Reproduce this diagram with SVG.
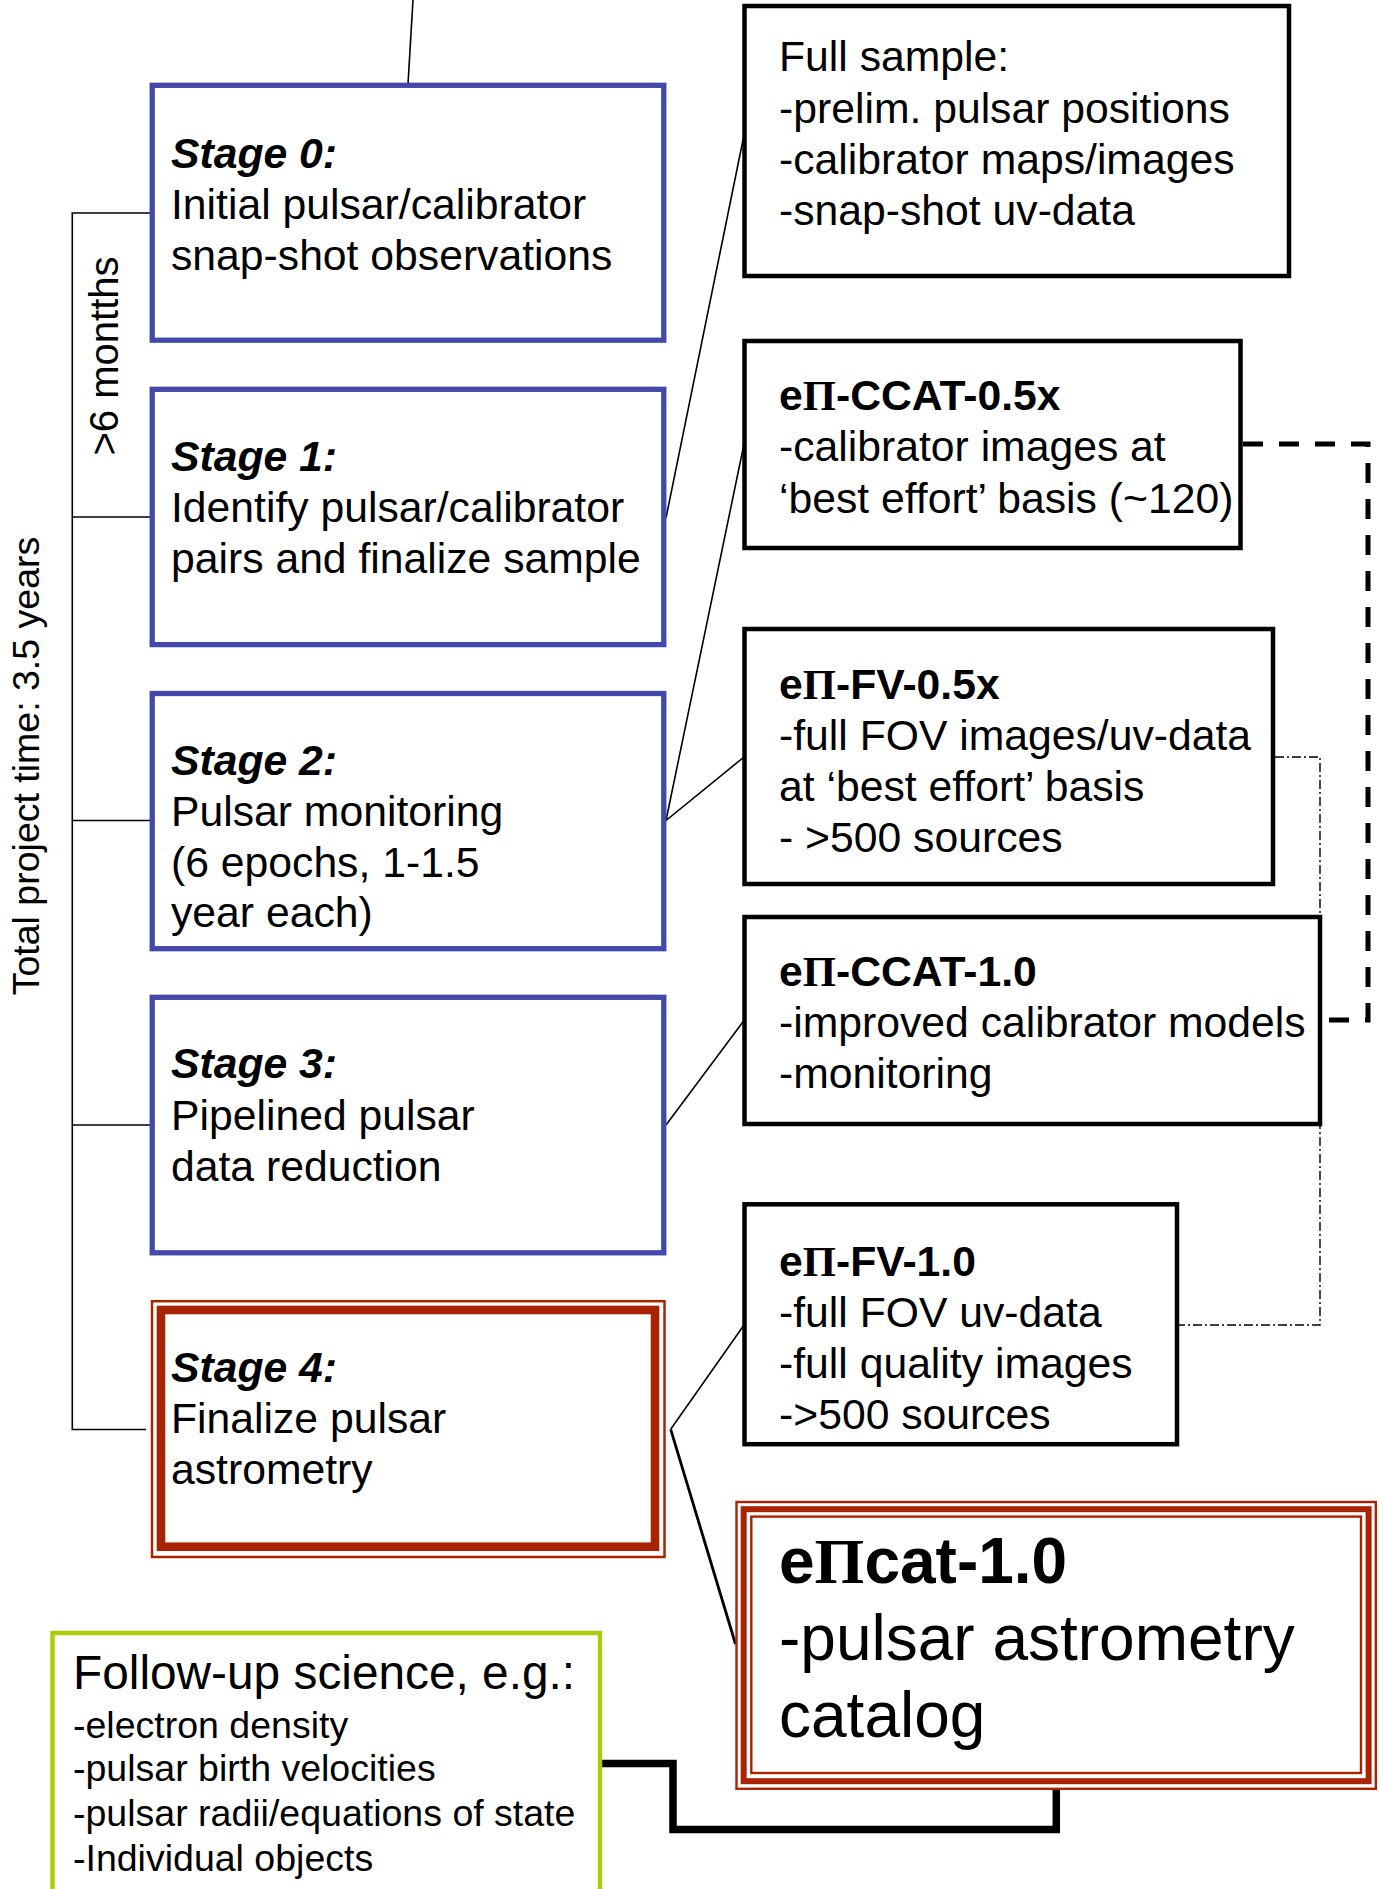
<svg xmlns="http://www.w3.org/2000/svg" width="1379" height="1889" viewBox="0 0 1379 1889">
<style>
text{font-family:"Liberation Sans",Arial,Helvetica,sans-serif;fill:#000}
.t{font-size:42.7px}
.s{font-size:37.5px}
.big{font-size:64px}
.b{font-weight:bold}
.bi{font-weight:bold;font-style:italic}
.pi{font-family:"Liberation Serif","Times New Roman",serif}
.st{fill:#fff;stroke:#4349a8;stroke-width:5.3}
.bx{fill:#fff;stroke:#000;stroke-width:4.5}
.red{fill:none;stroke:#a82400}
.ln{fill:none;stroke:#000;stroke-width:1.6}
</style>
<rect width="1379" height="1889" fill="#fff"/>

<g id="connectors">
  <line class="ln" x1="413" y1="0" x2="408" y2="84"/>
  <path class="ln" d="M150,213 H72.3 V1429.5 H146"/>
  <line class="ln" x1="72.3" y1="517" x2="150" y2="517"/>
  <line class="ln" x1="72.3" y1="820.5" x2="150" y2="820.5"/>
  <line class="ln" x1="72.3" y1="1125" x2="150" y2="1125"/>
  <line class="ln" x1="666" y1="518" x2="744" y2="135"/>
  <path class="ln" d="M744,444 L666,820.5 L744,757"/>
  <line class="ln" x1="666" y1="1125" x2="744" y2="1020.5"/>
  <path class="ln" d="M744,1325 L670.7,1429.3" stroke-width="2"/>
  <path fill="none" stroke="#000" stroke-width="2.8" d="M670.7,1429.3 L735.5,1644"/>
  <path fill="none" stroke="#000" stroke-width="5" stroke-dasharray="20 16" d="M1243,444 H1368 V1020 H1322"/>
  <path fill="none" stroke="#000" stroke-width="1.4" stroke-dasharray="9 3 2 3" d="M1275,757 H1320 V1325 H1179"/>
  <path fill="none" stroke="#000" stroke-width="7.5" stroke-linejoin="miter" d="M602,1763.5 H673 V1829.5 H1056.3 V1789"/>
</g>

<g id="labels-time">
  <text text-anchor="middle" transform="translate(39,766) rotate(-90)" style="font-size:37.5px">Total project time: 3.5 years</text>
  <text text-anchor="middle" transform="translate(118,356) rotate(-90)" style="font-size:40px">&gt;6 montths</text>
</g>

<g id="stage0">
  <rect class="st" x="152.2" y="85.3" width="511.6" height="254.9"/>
  <text class="t"><tspan class="bi" x="171" y="167.5">Stage 0:</tspan><tspan x="171" y="218.5">Initial pulsar/calibrator</tspan><tspan x="171" y="269.5">snap-shot observations</tspan></text>
</g>
<g id="stage1">
  <rect class="st" x="152.2" y="389.3" width="511.6" height="255.3"/>
  <text class="t"><tspan class="bi" x="171" y="471">Stage 1:</tspan><tspan x="171" y="522">Identify pulsar/calibrator</tspan><tspan x="171" y="573">pairs and finalize sample</tspan></text>
</g>
<g id="stage2">
  <rect class="st" x="152.2" y="693.5" width="511.6" height="255.2"/>
  <text class="t"><tspan class="bi" x="171" y="774.5">Stage 2:</tspan><tspan x="171" y="825.5">Pulsar monitoring</tspan><tspan x="171" y="876.5">(6 epochs, 1-1.5</tspan><tspan x="171" y="927">year each)</tspan></text>
</g>
<g id="stage3">
  <rect class="st" x="152.2" y="997.3" width="511.6" height="255.5"/>
  <text class="t"><tspan class="bi" x="171" y="1078">Stage 3:</tspan><tspan x="171" y="1129.5">Pipelined pulsar</tspan><tspan x="171" y="1180.5">data reduction</tspan></text>
</g>
<g id="stage4">
  <rect x="152" y="1301.2" width="512.5" height="255.8" fill="#fff" stroke="#a82400" stroke-width="2.5"/>
  <rect class="red" x="161" y="1310" width="494" height="236.7" stroke-width="8.6"/>
  <text class="t"><tspan class="bi" x="171" y="1381.5">Stage 4:</tspan><tspan x="171" y="1433">Finalize pulsar</tspan><tspan x="171" y="1484">astrometry</tspan></text>
</g>

<g id="full-sample">
  <rect class="bx" x="744.5" y="6" width="544.5" height="270"/>
  <text class="t"><tspan x="779" y="71">Full sample:</tspan><tspan x="779" y="122.5">-prelim. pulsar positions</tspan><tspan x="779" y="174">-calibrator maps/images</tspan><tspan x="779" y="225">-snap-shot uv-data</tspan></text>
</g>
<g id="ccat05">
  <rect class="bx" x="744.5" y="341" width="496" height="207"/>
  <text class="t"><tspan class="b" x="779" y="409.5">e<tspan class="pi">Π</tspan>-CCAT-0.5x</tspan><tspan x="779" y="461">-calibrator images at</tspan><tspan x="779" y="512.5">‘best effort’ basis (~120)</tspan></text>
</g>
<g id="fv05">
  <rect class="bx" x="744.5" y="629" width="528.5" height="255"/>
  <text class="t"><tspan class="b" x="779" y="698.5">e<tspan class="pi">Π</tspan>-FV-0.5x</tspan><tspan x="779" y="749.5">-full FOV images/uv-data</tspan><tspan x="779" y="800.5">at ‘best effort’ basis</tspan><tspan x="779" y="852">- &gt;500 sources</tspan></text>
</g>
<g id="ccat10">
  <rect class="bx" x="744.5" y="917" width="575.5" height="207"/>
  <text class="t"><tspan class="b" x="779" y="985.5">e<tspan class="pi">Π</tspan>-CCAT-1.0</tspan><tspan x="779" y="1037">-improved calibrator models</tspan><tspan x="779" y="1088">-monitoring</tspan></text>
</g>
<g id="fv10">
  <rect class="bx" x="744.5" y="1204.3" width="432.5" height="239.9"/>
  <text class="t"><tspan class="b" x="779" y="1276">e<tspan class="pi">Π</tspan>-FV-1.0</tspan><tspan x="779" y="1327">-full FOV uv-data</tspan><tspan x="779" y="1377.5">-full quality images</tspan><tspan x="779" y="1429">-&gt;500 sources</tspan></text>
</g>
<g id="epicat">
  <rect x="736.5" y="1502" width="639.3" height="286.8" fill="#fff" stroke="#a82400" stroke-width="2.4"/>
  <rect class="red" x="743.7" y="1509.2" width="624.9" height="272" stroke-width="6"/>
  <rect class="red" x="751.3" y="1516.6" width="609.7" height="256.4" stroke-width="2.4"/>
  <text class="big"><tspan class="b" x="779" y="1583">e<tspan class="pi">Π</tspan>cat-1.0</tspan><tspan x="779" y="1660">-pulsar astrometry</tspan><tspan x="779" y="1737">catalog</tspan></text>
</g>
<g id="follow-up">
  <rect x="52.5" y="1633" width="547.5" height="280" fill="#fff" stroke="#aacf0a" stroke-width="4.5"/>
  <text class="s"><tspan x="73" y="1689" style="font-size:47.8px">Follow-up science, e.g.:</tspan><tspan x="73" y="1737.5">-electron density</tspan><tspan x="73" y="1781">-pulsar birth velocities</tspan><tspan x="73" y="1825.5">-pulsar radii/equations of state</tspan><tspan x="73" y="1870.5">-Individual objects</tspan></text>
</g>
</svg>
